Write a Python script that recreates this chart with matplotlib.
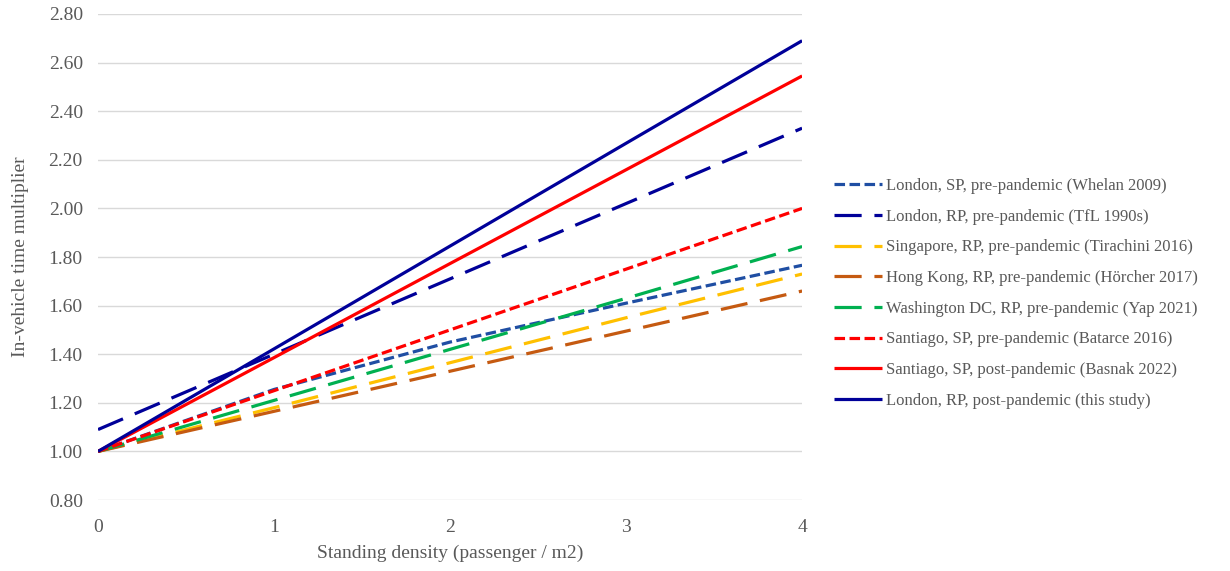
import matplotlib
matplotlib.use("Agg")
import matplotlib.pyplot as plt

# standing density (passenger / m2)
density = [0, 1, 2, 3, 4]

# in-vehicle time multiplier
london_sp_pre = [1.00, 1.255, 1.45, 1.61, 1.766]
london_rp_pre = [1.09, 1.40, 1.71, 2.02, 2.33]
singapore_rp_pre = [1.00, 1.18, 1.365, 1.55, 1.73]
hongkong_rp_pre = [1.00, 1.165, 1.33, 1.495, 1.66]
washington_rp_pre = [1.00, 1.21, 1.42, 1.63, 1.843]
santiago_sp_pre = [1.00, 1.25, 1.50, 1.75, 2.00]
santiago_sp_post = [1.00, 1.386, 1.773, 2.159, 2.545]
london_rp_post = [1.00, 1.422, 1.845, 2.268, 2.69]

labels = [
    "London, SP, pre-pandemic (Whelan 2009)",
    "London, RP, pre-pandemic (TfL 1990s)",
    "Singapore, RP, pre-pandemic (Tirachini 2016)",
    "Hong Kong, RP, pre-pandemic (Hörcher 2017)",
    "Washington DC, RP, pre-pandemic (Yap 2021)",
    "Santiago, SP, pre-pandemic (Batarce 2016)",
    "Santiago, SP, post-pandemic (Basnak 2022)",
    "London, RP, post-pandemic (this study)",
]
series = [london_sp_pre, london_rp_pre, singapore_rp_pre, hongkong_rp_pre,
          washington_rp_pre, santiago_sp_pre, santiago_sp_post, london_rp_post]
colors = ["#1F4EA3", "#000099", "#FFC000", "#C55A11",
          "#00B050", "#FF0000", "#FF0000", "#000099"]

short_dash = (3.3, 1.4)
long_dash = (8.5, 4.0)
dashes = [short_dash, long_dash, long_dash, long_dash,
          long_dash, short_dash, None, None]

plt.rcParams["font.family"] = ["Liberation Serif", "DejaVu Serif"]
text_color = "#595959"

fig = plt.figure(figsize=(12.3, 5.71), dpi=100)
ax = fig.add_axes([0.0797, 0.1243, 0.5724, 0.8512])

for vals, lab, col, d in zip(series, labels, colors, dashes):
    line, = ax.plot(density, vals, color=col, lw=2.3, label=lab,
                    solid_capstyle="butt", dash_capstyle="butt")
    if d is not None:
        line.set_dashes(d)

ax.set_xlim(0, 4)
ax.set_ylim(0.8, 2.8)
ax.set_xticks([0, 1, 2, 3, 4])
ax.set_yticks([0.8 + 0.2 * i for i in range(11)])
ax.set_yticklabels([f"{0.8 + 0.2 * i:.2f}" for i in range(11)])
ax.grid(axis="y", color="#D9D9D9", lw=1)
ax.set_axisbelow(True)
for s in ax.spines.values():
    s.set_visible(False)
ax.tick_params(length=0, labelsize=14, colors=text_color)
ax.tick_params(axis="x", pad=14)
ax.tick_params(axis="y", pad=11)

ax.set_xlabel("Standing density (passenger / m2)", fontsize=14,
              color=text_color, labelpad=6)
ax.set_ylabel("In-vehicle time multiplier", fontsize=14,
              color=text_color, labelpad=14)

leg = fig.legend(loc="center left", bbox_to_anchor=(0.678, 0.486),
                 frameon=False, fontsize=12, handlelength=2.9,
                 handletextpad=0.25, labelspacing=0.88,
                 borderpad=0, borderaxespad=0)
for t in leg.get_texts():
    t.set_color(text_color)

fig.savefig("out.png", dpi=100)
